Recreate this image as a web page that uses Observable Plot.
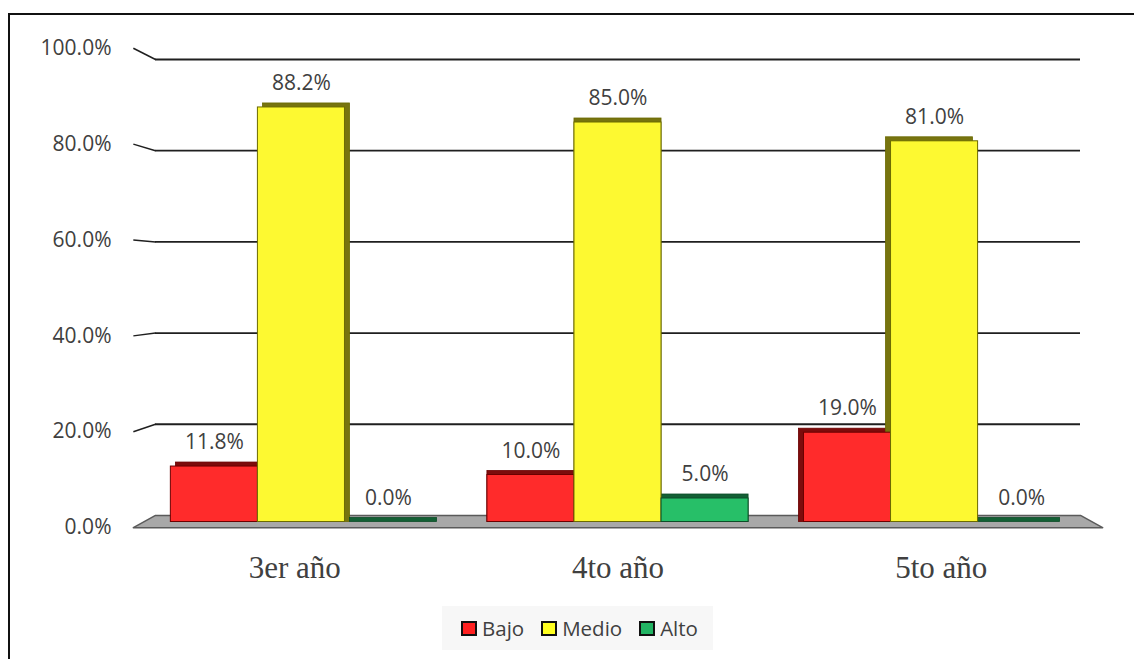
<!DOCTYPE html>
<html>
<head>
<meta charset="utf-8">
<script src="https://cdn.jsdelivr.net/npm/d3@7"></script>
<script src="https://cdn.jsdelivr.net/npm/@observablehq/plot@0.6"></script>
<style>
  html, body { margin: 0; padding: 0; background: #fff; }
  body { width: 1134px; height: 659px; position: relative; overflow: hidden; font-family: "Open Sans", sans-serif; }
  #marco { position: absolute; left: 8px; top: 13px; width: 1300px; height: 800px; border-left: 2px solid #111; border-top: 2px solid #111; }
  #chart { position: absolute; left: 0; top: 0; }
  #leyenda { position: absolute; left: 442px; top: 606px; width: 271px; height: 44px; background: #f7f7f7;
             display: flex; align-items: center; box-sizing: border-box; padding-left: 19px; gap: 17px; }
  .item { display: flex; align-items: center; gap: 5px; font-size: 20.5px; color: #404040; }
  .sw { width: 12px; height: 11px; border: 2px solid #111; }
</style>
</head>
<body>
<div id="marco"></div>
<div id="chart"></div>
<div id="leyenda"></div>
<script>
// Niveles por año
const grupos = ["3er año", "4to año", "5to año"];
const niveles = ["Bajo", "Medio", "Alto"];
const bajo = [11.8, 10.0, 19.0];
const medio = [88.2, 85.0, 81.0];
const alto = [0.0, 5.0, 0.0];
const yTicks = [0, 20, 40, 60, 80, 100];

const valores = [bajo, medio, alto];
const frente = { Bajo: "#ff2b2b", Medio: "#fdf931", Alto: "#27bf68" };
const lado = { Bajo: "#7d0c0c", Medio: "#77740f", Alto: "#135f34" };
const borde = { Bajo: "#6b0000", Medio: "#6b6a00", Alto: "#0d4d28" };
const leyendaColor = { Bajo: "#ff2020", Medio: "#ffff20", Alto: "#22b463" };

const rows = grupos.flatMap((g, i) =>
  niveles.map((n, j) => ({ grupo: g, nivel: n, valor: valores[j][i], i, j }))
);

// geometry of the pseudo-3D box
const W = 0.275;                 // bar width, in group units
const xDom = [-0.461, 2.461];    // back wall extent
const depth = 0.07;              // wall-to-front offset, in group units
const wall = v => 1.4 + 0.97 * v;   // value as seen on the back wall
const front = v => -1.2 + 1.02 * v; // value on the front edge
const shift = d => (1 - d.i) * 0.016; // side face direction per group
const left = d => d.i + (d.j - 1.5) * W;
const spread = i => i + (i - 1) * 0.021; // category labels drift outward with perspective

const floor = [
  { x: xDom[0], y: wall(0) }, { x: xDom[1], y: wall(0) },
  { x: xDom[1] + depth, y: front(0) }, { x: xDom[0] - depth, y: front(0) },
  { x: xDom[0], y: wall(0) }
];
const gridVals = yTicks.filter(v => v > 0);
const textColor = "#404040";

const marks = [
  Plot.line(floor, { x: "x", y: "y", fill: "#a8a8a8", stroke: "#5a5a5a", strokeWidth: 1.5 }),
  Plot.ruleY(gridVals, { y: wall, stroke: "#1f1f1f", strokeWidth: 1.8 }),
  Plot.link(gridVals, { x1: () => xDom[0] - depth, y1: front, x2: () => xDom[0], y2: wall, stroke: "#1f1f1f", strokeWidth: 1.5 }),
  Plot.text(yTicks, { y: front, frameAnchor: "left", dx: -44, textAnchor: "end", text: v => v.toFixed(1) + "%",
    fill: textColor, fontSize: 21, fontFamily: "Open Sans" })
];

// side/top faces first, then front faces
for (const n of niveles) {
  const data = rows.filter(d => d.nivel === n);
  marks.push(Plot.rectY(data, {
    x1: d => left(d) + shift(d), x2: d => left(d) + W + shift(d), y1: 0, y2: "valor",
    insetTop: -4, fill: lado[n], stroke: borde[n], strokeWidth: 0.8
  }));
}
for (const n of niveles) {
  const data = rows.filter(d => d.nivel === n);
  marks.push(Plot.rectY(data, {
    x1: left, x2: d => left(d) + W, y1: 0, y2: "valor",
    fill: frente[n], stroke: borde[n], strokeWidth: 1
  }));
}

marks.push(
  Plot.text(rows, { x: d => left(d) + W / 2, y: "valor", dy: -24, text: d => d.valor.toFixed(1) + "%",
    fill: textColor, fontSize: 21, fontFamily: "Open Sans" }),
  Plot.text(grupos, { x: (d, i) => spread(i), frameAnchor: "bottom", dy: 56, text: d => d,
    fill: textColor, fontSize: 31, fontFamily: "Liberation Serif" })
);

const chart = Plot.plot({
  width: 1134,
  height: 600,
  marginLeft: 155,
  marginRight: 54,
  marginTop: 51.5,
  marginBottom: 78.5,
  x: { domain: xDom, axis: null },
  y: { domain: [0, 100], axis: null },
  style: { background: "transparent", overflow: "visible" },
  marks
});
document.getElementById("chart").append(chart);

const ley = document.getElementById("leyenda");
for (const n of niveles) {
  const it = document.createElement("div");
  it.className = "item";
  const sw = document.createElement("span");
  sw.className = "sw";
  sw.style.background = leyendaColor[n];
  const tx = document.createElement("span");
  tx.textContent = n;
  it.append(sw, tx);
  ley.append(it);
}
</script>
</body>
</html>
